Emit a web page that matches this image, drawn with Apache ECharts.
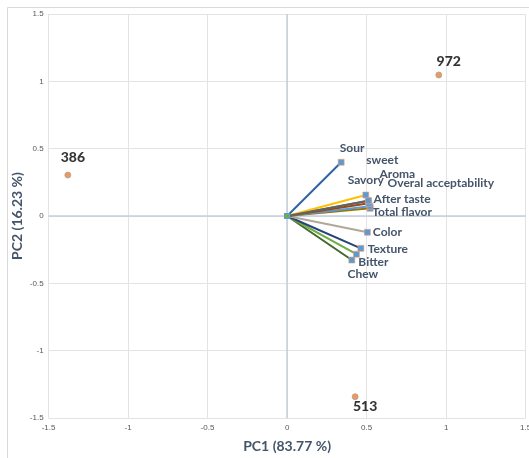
<!DOCTYPE html>
<html>
<head>
<meta charset="utf-8">
<script src="https://cdn.jsdelivr.net/npm/echarts@6/dist/echarts.min.js"></script>
<style>html,body{margin:0;padding:0;background:#fff}#c{width:529px;height:458px}</style>
</head>
<body>
<div id="c"></div>
<script>
// Loading vectors (PC1, PC2)
const variables = ['Sour','sweet','Savory','Aroma','Overal acceptability','After taste','Total flavor','Color','Texture','Bitter','Chew'];
const loadPC1 = [0.34, 0.511, 0.495, 0.511, 0.514, 0.522, 0.522, 0.505, 0.464, 0.436, 0.407];
const loadPC2 = [0.399, 0.114, 0.156, 0.114, 0.094, 0.072, 0.057, -0.121, -0.24, -0.284, -0.327];
// Sample scores
const samples = ['386','972','513'];
const scorePC1 = [-1.379, 0.954, 0.428];
const scorePC2 = [0.304, 1.047, -1.342];
const ticks = [-1.5,-1,-0.5,0,0.5,1,1.5];

// styling
const lineColors = ['#2E64A0','#636363','#FFC000','#636363','#9E480E','#5B9BD5','#997300','#B0A898','#264478','#70AD47','#43682B'];
const labelOffsets = [[11,-14],[14,-41],[0,-15],[29,-27],[72,-20],[32,-7],[32,4],[20,0],[27,1],[17,8],[11,14]];
const scoreOffsets = [[5,-18],[10,-14],[10,10]];

const chart = echarts.init(document.getElementById('c'));
const series = [];
variables.forEach((v,i)=>{
  series.push({
    type:'line', z: 3 + (variables.length - i),
    data:[
      {value:[0,0], symbol:'rect', symbolSize:5, itemStyle:{color:'#70AD47', borderColor:'#5B9BD5', borderWidth:1}},
      {value:[loadPC1[i], loadPC2[i]], label:{show:true, position:'inside', offset:labelOffsets[i], formatter:v,
        fontFamily:'Lato', fontWeight:'bold', fontSize:12, color:'#44546A'}}
    ],
    symbol:'rect', symbolSize:6,
    itemStyle:{color:'#5B9BD5', borderColor:'#F4A070', borderWidth:0.6},
    lineStyle:{color:lineColors[i], width:2},
    animation:false
  });
});
series.push({
  type:'scatter', z:5,
  data: samples.map((s,i)=>({value:[scorePC1[i], scorePC2[i]], label:{show:true, position:'inside', offset:scoreOffsets[i], formatter:s,
    fontFamily:'Lato', fontWeight:900, fontSize:14, color:'#000'}})),
  symbol:'circle', symbolSize:6,
  itemStyle:{color:'#ED7D31', borderColor:'#A5A5A5', borderWidth:1},
  markLine:{silent:true, symbol:'none', label:{show:false}, lineStyle:{color:'#C5CEDA', width:1.5, type:'solid'},
    data:[{xAxis:0},{yAxis:0}]},
  animation:false
});

chart.setOption({
  animation:false,
  graphic:[{type:'rect', shape:{x:7.5,y:7.5,width:540,height:470}, style:{fill:'none', stroke:'#D9D9D9', lineWidth:1}, silent:true, z:-1}],
  grid:{left:48.6, right:3.4, top:14, bottom:40, containLabel:false, outerBoundsMode:'none'},
  xAxis:{type:'value', min:-1.5, max:1.5, interval:0.5,
    name:'PC1 (83.77 %)', nameLocation:'middle', nameGap:21,
    nameTextStyle:{fontFamily:'Lato', fontWeight:'bold', fontSize:14, color:'#44546A'},
    axisLine:{show:false}, axisTick:{show:false},
    axisLabel:{fontSize:8, color:'#595959', margin:6, fontFamily:'Liberation Sans', formatter:v=>String(v)},
    splitLine:{show:true, lineStyle:{color:'#E3E3E3', width:1}}},
  yAxis:{type:'value', min:-1.5, max:1.5, interval:0.5,
    name:'PC2 (16.23 %)', nameLocation:'middle', nameGap:24, nameMoveOverlap:false,
    nameTextStyle:{fontFamily:'Lato', fontWeight:'bold', fontSize:14, color:'#44546A'},
    axisLine:{show:false}, axisTick:{show:false},
    axisLabel:{fontSize:8, color:'#595959', margin:5, fontFamily:'Liberation Sans', formatter:v=>String(v)},
    splitLine:{show:true, lineStyle:{color:'#E3E3E3', width:1}}},
  series: series
});
</script>
</body>
</html>
